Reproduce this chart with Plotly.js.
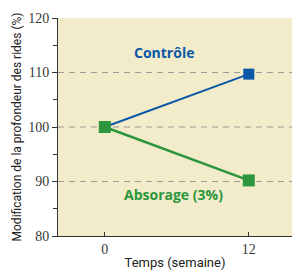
<!DOCTYPE html>
<html><head><meta charset="utf-8">
<script src="https://cdn.plot.ly/plotly-3.0.1.min.js"></script>
<style>body{margin:0;padding:0;background:#fff}#chart{width:292px;height:270px}</style>
</head><body><div id="chart"></div>
<script>
const weeks = [0, 12];
const controle = [100, 109.7];
const absorage = [100, 90.2];
const seriesNames = ['Contrôle', 'Absorage (3%)'];
const yTicks = [80, 90, 100, 110, 120];

const blue = '#0b57a8', green = '#2b963c';
const traces = [
  {x: weeks, y: controle, name: seriesNames[0], mode: 'lines+markers', line: {color: blue, width: 2}, marker: {symbol: 'square', size: 11, color: blue}},
  {x: weeks, y: absorage, name: seriesNames[1], mode: 'lines+markers', line: {color: green, width: 2.5}, marker: {symbol: 'square', size: 12, color: green}}
];
const shapes = [90, 100, 110].map(v => ({type: 'line', xref: 'paper', x0: 0, x1: 1, yref: 'y', y0: v, y1: v, line: {color: '#9a9a9a', width: 1, dash: '6px,5px'}, layer: 'below'}));
const layout = {
  width: 292, height: 270,
  margin: {l: 58, r: 0, t: 18, b: 34},
  paper_bgcolor: '#fff', plot_bgcolor: '#f3ecca',
  showlegend: false,
  shapes: shapes,
  xaxis: {range: [-3.9, 15.6], tickvals: weeks, ticktext: weeks.map(String), showgrid: false, zeroline: false,
    showline: true, linecolor: '#333', linewidth: 1, ticks: 'inside', ticklen: 4, tickcolor: '#333',
    tickfont: {family: 'Liberation Serif, serif', size: 14, color: '#3a3a3a'},
    title: {text: 'Temps (semaine)', font: {family: 'Liberation Sans Narrow, Roboto, sans-serif', size: 13, color: '#222'}, standoff: 4}},
  yaxis: {range: [80, 120], tickvals: yTicks, showgrid: false, zeroline: false,
    showline: true, linecolor: '#333', linewidth: 1, ticks: 'outside', ticklen: 5, tickcolor: '#333',
    minor: {dtick: 5, ticks: 'outside', ticklen: 4, tickcolor: '#333', showgrid: false},
    tickfont: {family: 'Liberation Serif, serif', size: 14, color: '#3a3a3a'},
    title: {text: 'Modification de la profondeur des rides (%)', font: {family: 'Liberation Sans Narrow, Roboto, sans-serif', size: 12, color: '#222'}, standoff: 4}},
  annotations: [
    {x: 4.9, y: 113.6, xref: 'x', yref: 'y', text: '<b>' + seriesNames[0] + '</b>', showarrow: false, font: {family: 'Open Sans, sans-serif', size: 14, color: blue}},
    {x: 5.75, y: 87.7, xref: 'x', yref: 'y', text: '<b>' + seriesNames[1] + '</b>', showarrow: false, font: {family: 'Open Sans, sans-serif', size: 14, color: green}}
  ]
};
Plotly.newPlot('chart', traces, layout, {displayModeBar: false, staticPlot: true});
</script></body></html>
